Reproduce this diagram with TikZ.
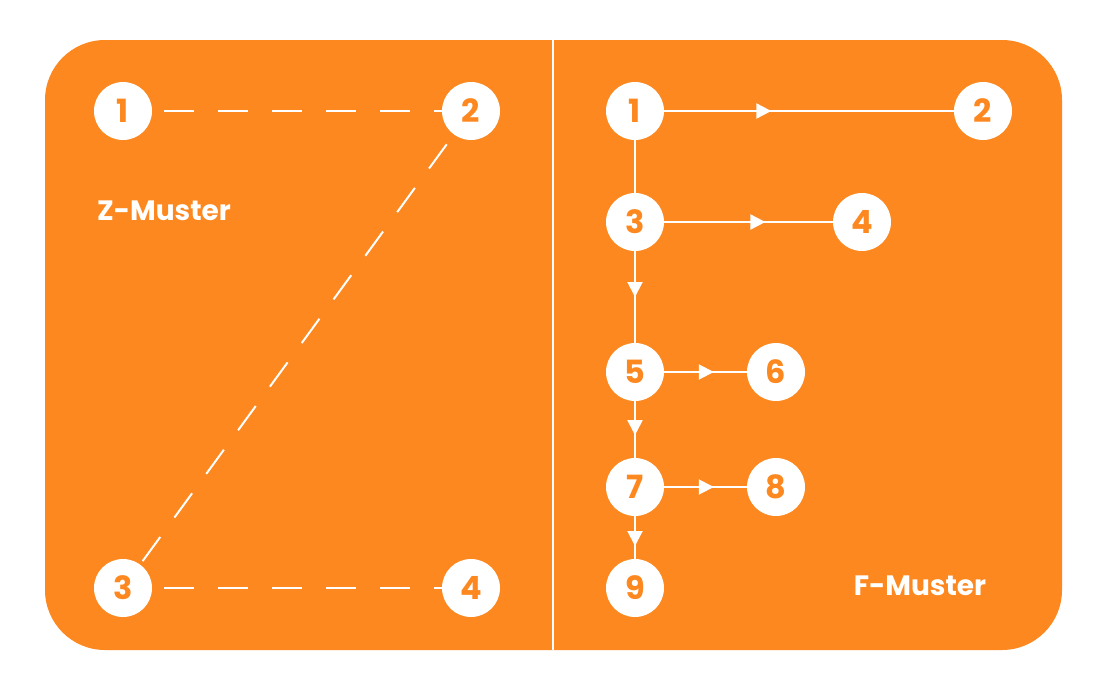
\documentclass[tikz,border=0pt]{standalone}
\usepackage{fontspec}
\setmainfont{Poppins}[UprightFont=* Bold]
\usetikzlibrary{decorations.markings,arrows.meta}
\definecolor{zforange}{RGB}{252,136,31}

\begin{document}
\begin{tikzpicture}[
  x=1pt, y=-1pt,
  num/.style={circle, fill=white, text=zforange, minimum size=58pt, inner sep=0pt, font=\fontsize{32}{32}\selectfont},
  zlink/.style={white, line width=2pt, dash pattern=on 30pt off 24pt, dash phase=-12pt},
  flink/.style={white, line width=2pt, postaction={decorate}, decoration={markings, mark=at position #1 with {\arrow{Triangle[length=15pt,width=15pt]}}}},
  flink/.default=0.5,
  title/.style={text=white, font=\fontsize{28}{28}\selectfont}
]
\useasboundingbox (0,0) rectangle (1106,691);
\fill[zforange, rounded corners=60pt] (45,40) rectangle (1062,650);
\draw[white, line width=2pt] (553,40) -- (553,650);

% Z-Muster
\node[num] (z1) at (123,111) {1};
\node[num] (z2) at (471,111) {2};
\node[num] (z3) at (123,588) {3};
\node[num] (z4) at (471,588) {4};
\node[title] (zt) at (164,211) {Z-Muster};
\draw[zlink] (z1) -- (z2);
\draw[zlink] (z2) -- (z3);
\draw[zlink] (z3) -- (z4);

% F-Muster
\node[num] (f1) at (635,111) {1};
\node[num] (f2) at (983,111) {2};
\node[num] (f3) at (635,222) {3};
\node[num] (f4) at (862,222) {4};
\node[num] (f5) at (635,372) {5};
\node[num] (f6) at (776,372) {6};
\node[num] (f7) at (635,487) {7};
\node[num] (f8) at (776,487) {8};
\node[num] (f9) at (635,588) {9};
\node[title] (ft) at (920,586) {F-Muster};
\draw[flink=0.37] (f1) -- (f2);
\draw[flink=0.6] (f3) -- (f4);
\draw[flink=0.6] (f5) -- (f6);
\draw[flink=0.6] (f7) -- (f8);
\draw[white, line width=2pt] (f1) -- (f3);
\draw[flink=0.5] (f3) -- (f5);
\draw[flink=0.6] (f5) -- (f7);
\draw[flink=0.7] (f7) -- (f9);
\end{tikzpicture}
\end{document}
